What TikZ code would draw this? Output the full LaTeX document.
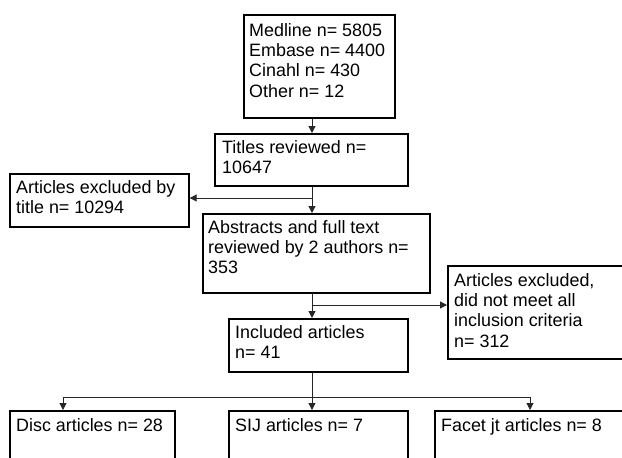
\documentclass[tikz,border=0pt]{standalone}
\usepackage{fontspec}
\setmainfont{Liberation Sans}
\usetikzlibrary{arrows.meta}
\tikzset{
  box/.style={draw=black, line width=1.7pt, rectangle, anchor=north west, inner sep=0pt},
  txt/.style={anchor=north west, inner sep=0pt, align=left, font=\fontsize{17.9}{20.3}\selectfont},
  conn/.style={line width=1pt, draw=black!85},
  arr/.style={conn, -{Triangle[length=7pt,width=7pt]}}
}
\begin{document}
\begin{tikzpicture}[x=1pt,y=-1pt]
\clip (0,0) rectangle (622,458);
\fill[white] (0,0) rectangle (622,458);
% boxes
\node[box, minimum width=151, minimum height=103] (src) at (243,14) {};
\node[box, minimum width=193, minimum height=52] (tit) at (214,133) {};
\node[box, minimum width=179, minimum height=53] (exa) at (9,173) {};
\node[box, minimum width=227, minimum height=79] (abs) at (202,213) {};
\node[box, minimum width=200, minimum height=93] (exb) at (447,265) {};
\node[box, minimum width=179, minimum height=53] (inc) at (228,318) {};
\node[box, minimum width=165, minimum height=80] (disc) at (9,410) {};
\node[box, minimum width=179, minimum height=80] (sij) at (228,410) {};
\node[box, minimum width=210, minimum height=80] (fac) at (434,410) {};
% texts
\node[txt] (srct) at ([shift={(6,9.2)}]src.north west) {Medline n= 5805\\Embase n= 4400\\Cinahl n= 430\\Other n= 12};
\node[txt] (titt) at ([shift={(8,7.2)}]tit.north west) {Titles reviewed n=\\10647};
\node[txt] (exat) at ([shift={(7,7.2)}]exa.north west) {Articles excluded by\\title n= 10294};
\node[txt] (abst) at ([shift={(6,7.0)}]abs.north west) {Abstracts and full text\\reviewed by 2 authors n=\\353};
\node[txt] (exbt) at ([shift={(7,8.2)}]exb.north west) {Articles excluded,\\did not meet all\\inclusion criteria\\n= 312};
\node[txt] (inct) at ([shift={(7,7.2)}]inc.north west) {Included articles\\n= 41};
\node[txt] (disct) at ([shift={(7,8.2)}]disc.north west) {Disc articles n= 28};
\node[txt] (sijt) at ([shift={(7,8.2)}]sij.north west) {SIJ articles n= 7};
\node[txt] (fact) at ([shift={(7,8.0)}]fac.north west) {Facet jt articles n= 8};
% connectors
\coordinate (spine) at (312,0);
\coordinate (ba) at (312,198);
\coordinate (bb) at (312,305);
\coordinate (bc) at (312,397);
\coordinate (dl) at (63,397);
\coordinate (dr) at (530,397);
\draw[arr] (src.south -| spine) -- (tit.north -| spine);
\draw[arr] (tit.south -| spine) -- (abs.north -| spine);
\draw[arr] (ba) -- (ba -| exa.east);
\draw[arr] (abs.south -| spine) -- (inc.north -| spine);
\draw[arr] (bb) -- (bb -| exb.west);
\draw[conn] (inc.south -| spine) -- (bc);
\draw[conn] (dl) -- (dr);
\draw[arr] (dl) -- (dl |- disc.north);
\draw[arr] (bc) -- (sij.north -| spine);
\draw[arr] (dr) -- (dr |- fac.north);
\end{tikzpicture}
\end{document}
